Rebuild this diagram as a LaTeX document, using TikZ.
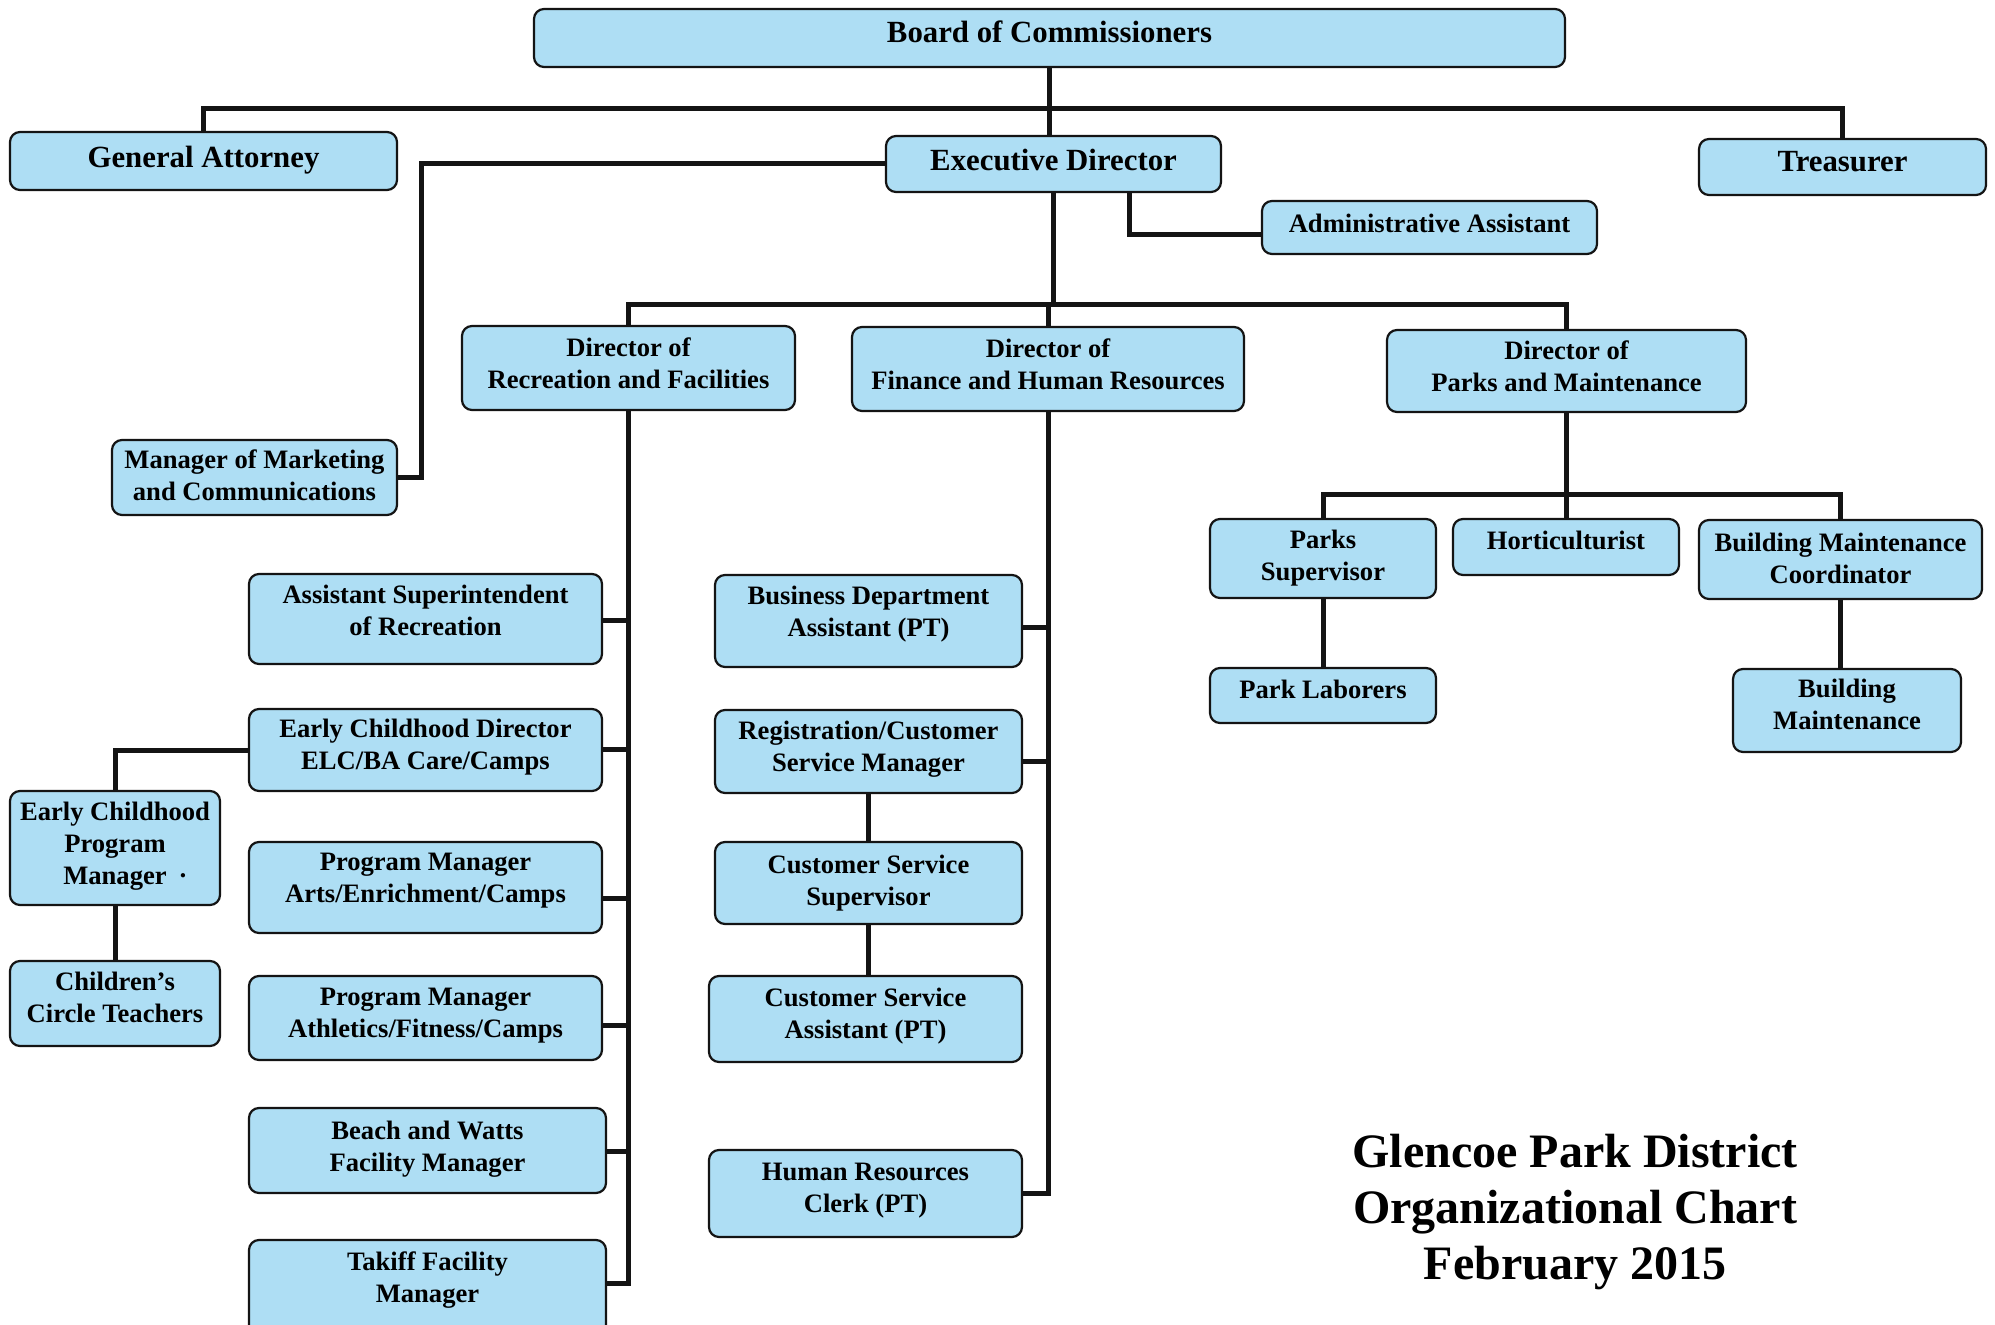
\documentclass[tikz,border=0pt]{standalone}
\usepackage{fontspec}
\setmainfont{Liberation Serif}
\definecolor{boxblue}{RGB}{174,222,244}
\definecolor{lineblack}{RGB}{20,20,20}
\tikzset{
  box/.style={draw=lineblack, line width=1.1pt, fill=boxblue, rounded corners=5pt,
    inner sep=0pt, outer sep=0pt},
  boxtext/.style={align=center, inner sep=0pt,
    font=\bfseries\fontsize{13.3}{16}\selectfont},
  big/.style={font=\bfseries\fontsize{15.4}{18}\selectfont},
  conn/.style={line width=2.5pt, draw=lineblack},
  titletext/.style={align=center, font=\bfseries\fontsize{24}{28}\selectfont}
}
% #1 text options, #2 name, #3..#6 corners (x1,y1,x2,y2), #7 text
\newcommand\orgbox[7][]{%
  \node[box,minimum width={(#5-#3)*0.5pt},minimum height={(#6-#4)*0.5pt},
    label={[boxtext,#1]center:{#7}}]
    (#2) at ({(#3+#5)/2},{(#4+#6)/2}) {};}
\begin{document}
\begin{tikzpicture}[x=0.5pt,y=-0.5pt]
\useasboundingbox (0,0) rectangle (1995,1325);
\clip (0,0) rectangle (1995,1325);
\fill[white] (0,0) rectangle (1995,1325);

% boxes
\orgbox[big,yshift=3.2pt]{board}{534}{9}{1565}{67}{Board of Commissioners}
\orgbox[big,yshift=0.6pt]{ga}{10}{132}{397}{190}{General Attorney}
\orgbox[big,yshift=1.9pt]{exec}{886}{136}{1221}{192}{Executive Director}
\orgbox[big,yshift=2.5pt]{tr}{1699}{139}{1986}{195}{Treasurer}
\orgbox[yshift=1.9pt]{adm}{1262}{201}{1597}{254}{Administrative Assistant}
\orgbox[yshift=1pt]{mkt}{112}{440}{397}{515}{Manager of Marketing\\and Communications}
\orgbox[yshift=2.5pt]{recdir}{462}{326}{795}{410}{Director of\\Recreation and Facilities}
\orgbox[yshift=2.5pt]{findir}{852}{327}{1244}{411}{Director of\\Finance and Human Resources}
\orgbox[yshift=2.5pt]{parkdir}{1387}{330}{1746}{412}{Director of\\Parks and Maintenance}
\orgbox[yshift=4.5pt]{asup}{249}{574}{602}{664}{Assistant Superintendent\\of Recreation}
\orgbox[yshift=1.3pt]{ecd}{249}{709}{602}{791}{Early Childhood Director\\ELC/BA Care/Camps}
\orgbox[yshift=3.2pt]{pma}{249}{842}{602}{933}{Program Manager\\Arts/Enrichment/Camps}
\orgbox[yshift=1pt]{pmf}{249}{976}{602}{1060}{Program Manager\\Athletics/Fitness/Camps}
\orgbox[yshift=0.6pt]{bw}{249}{1108}{606}{1193}{Beach and Watts\\Facility Manager}
\orgbox[yshift=3.5pt]{tk}{249}{1240}{606}{1335}{Takiff Facility\\Manager}
\orgbox[yshift=1pt]{ecpm}{10}{791}{220}{905}{Early Childhood\\Program\\Manager\rlap{\hspace{6pt}·}}
\orgbox[yshift=3.2pt]{cct}{10}{961}{220}{1046}{Children’s\\Circle Teachers}
\orgbox[yshift=3.2pt]{bda}{715}{575}{1022}{667}{Business Department\\Assistant (PT)}
\orgbox[yshift=1pt]{reg}{715}{710}{1022}{793}{Registration/Customer\\Service Manager}
\orgbox{css}{715}{842}{1022}{924}{Customer Service\\Supervisor}
\orgbox[yshift=1.3pt]{csa}{709}{976}{1022}{1062}{Customer Service\\Assistant (PT)}
\orgbox[yshift=1.3pt]{hr}{709}{1150}{1022}{1237}{Human Resources\\Clerk (PT)}
\orgbox{ps}{1210}{519}{1436}{598}{Parks\\Supervisor}
\orgbox[yshift=3.2pt]{hort}{1453}{519}{1679}{575}{Horticulturist}
\orgbox[yshift=0.6pt]{bmc}{1699}{520}{1982}{599}{Building Maintenance\\Coordinator}
\orgbox[yshift=3.2pt]{pl}{1210}{668}{1436}{723}{Park Laborers}
\orgbox[yshift=3.2pt]{bm}{1733}{669}{1961}{752}{Building\\Maintenance}

\node[titletext] (ttl) at (1575,1212) {Glencoe Park District\\Organizational Chart\\February 2015};

% connectors
\coordinate (topbar) at (0,109);
\draw[conn] (board.south) -- (board.south |- exec.north);
\draw[conn] (ga.north) -- (ga.north |- topbar) -| (tr.north);

\coordinate (mj) at (421,0);
\draw[conn] (exec.west) -| (mj |- mkt.east) -- (mkt.east);

\coordinate (aj) at (1129,235);
\draw[conn] (exec.south -| aj) |- (adm.west |- aj);

\coordinate (dbus) at (0,305);
\draw[conn] (exec.south) -- (exec.south |- dbus);
\draw[conn] (recdir.north) -- (recdir.north |- dbus) -| (parkdir.north);
\draw[conn] (findir.north) -- (findir.north |- dbus);

% recreation spine
\coordinate (r6) at (0,1283);
\draw[conn] (recdir.south) |- (tk.east |- r6);
\foreach \n/\y in {asup/620, ecd/749, pma/898, pmf/1025, bw/1151}{
  \coordinate (rt) at (0,\y);
  \draw[conn] (\n.east |- rt) -- (recdir.south |- rt);
}
\draw[conn] (ecd.west) -| (ecpm.north);
\draw[conn] (ecpm.south) -- (cct.north);

% finance spine
\draw[conn] (findir.south) |- (hr.east);
\foreach \n/\y in {bda/627, reg/761}{
  \coordinate (ft) at (0,\y);
  \draw[conn] (\n.east |- ft) -- (findir.south |- ft);
}
\draw[conn] (reg.south) -- (reg.south |- css.north);
\draw[conn] (css.south) -- (css.south |- csa.north);

% parks
\coordinate (pbus) at (0,495);
\draw[conn] (parkdir.south) -- (parkdir.south |- pbus);
\draw[conn] (ps.north) -- (ps.north |- pbus) -| (bmc.north);
\draw[conn] (hort.north) -- (hort.north |- pbus);
\draw[conn] (ps.south) -- (pl.north);
\draw[conn] (bmc.south) -- (bmc.south |- bm.north);
\end{tikzpicture}
\end{document}
